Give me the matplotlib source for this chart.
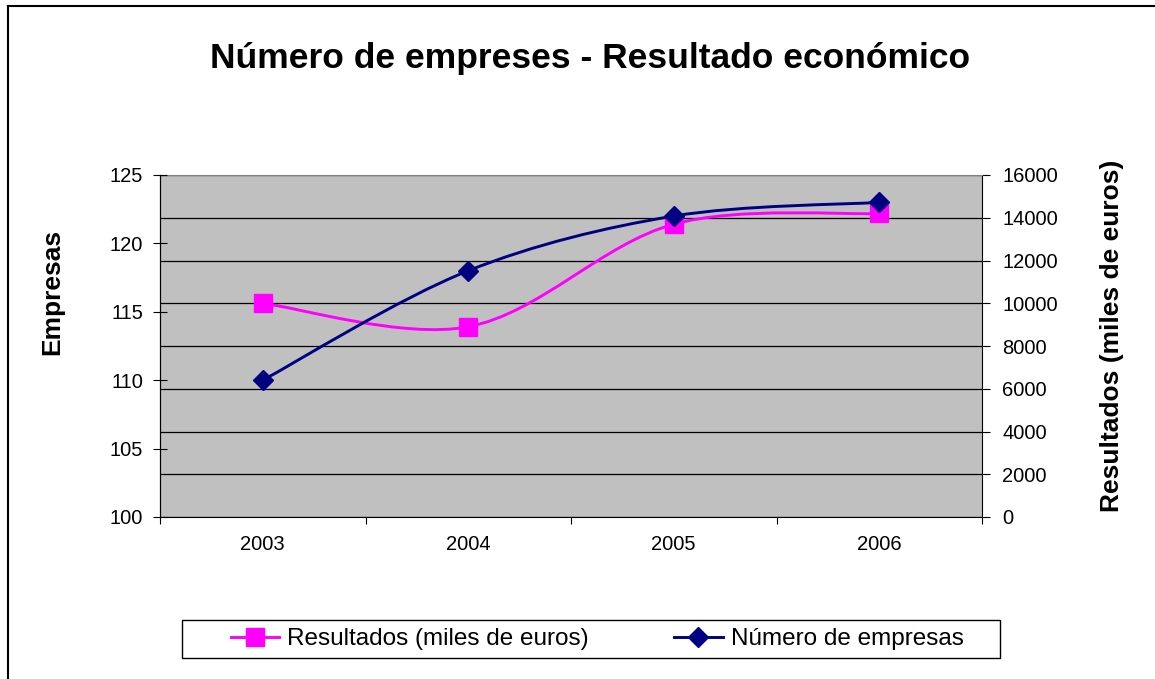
import numpy as np
import matplotlib
matplotlib.use('Agg')
import matplotlib.pyplot as plt
from matplotlib.path import Path
from matplotlib.patches import PathPatch, Rectangle
from matplotlib.lines import Line2D

years = ['2003', '2004', '2005', '2006']
empresas = [110, 118, 122, 123]
resultados = [10000, 8900, 13700, 14200]

plt.rcParams['font.family'] = ['Liberation Sans', 'DejaVu Sans']

W, H = 1155, 679
fig = plt.figure(figsize=(W / 100, H / 100), dpi=100)
fig.patch.set_facecolor('white')

# plot area (pixels measured on the reference)
px_left, px_right, px_top, px_bottom = 160, 982, 175, 517
ax = fig.add_axes([px_left / W, 1 - px_bottom / H,
                   (px_right - px_left) / W, (px_bottom - px_top) / H])
ax2 = ax.twinx()
# resultados on the right axis (ax), empresas on the left axis (ax2, drawn on top)
ax.yaxis.tick_right()
ax.yaxis.set_label_position('right')
ax2.yaxis.tick_left()
ax2.yaxis.set_label_position('left')

ax.set_facecolor('#C0C0C0')
x = np.arange(len(years))
ax.set_xlim(-0.5, len(years) - 0.5)
ax.set_ylim(0, 16000)
ax.set_yticks(range(0, 16001, 2000))
ax2.set_ylim(100, 125)
ax2.set_yticks(range(100, 126, 5))
ax.grid(axis='y', color='black', lw=0.9)
ax.set_axisbelow(True)

ax.set_xticks(x, years)
ax.set_xticks(np.arange(-0.5, len(years), 1), minor=True)
ax.tick_params(axis='x', which='major', length=0, pad=13, labelsize=14.5)
ax.tick_params(axis='x', which='minor', length=5, direction='out', width=0.8)
ax.tick_params(axis='y', length=6, direction='out', width=0.8, pad=8.5, labelsize=14.5)
ax2.tick_params(axis='y', length=10, direction='inout', width=0.8, pad=7, labelsize=14.5)

for s in ['left', 'right', 'bottom']:
    ax.spines[s].set_color('black')
    ax.spines[s].set_linewidth(0.8)
ax.spines['top'].set_color('#808080')
for s in ['top', 'right', 'bottom']:
    ax2.spines[s].set_visible(False)
ax2.spines['left'].set_color('black')
ax2.spines['left'].set_linewidth(0.8)


def smooth_path(ax_, xs, ys):
    # Excel-like smoothed line: bezier segments computed in screen proportions
    x0, x1 = ax_.get_xlim()
    y0, y1 = ax_.get_ylim()
    sx = (px_right - px_left) / (x1 - x0)
    sy = (px_bottom - px_top) / (y1 - y0)
    pts = np.column_stack([(np.asarray(xs) - x0) * sx, (np.asarray(ys) - y0) * sy])
    n = len(pts)
    verts = [pts[0]]
    codes = [Path.MOVETO]
    f = 1 / 6
    for i in range(n - 1):
        p0 = pts[i - 1] if i > 0 else pts[i]
        p1 = pts[i]
        p2 = pts[i + 1]
        p3 = pts[i + 2] if i + 2 < n else pts[i + 1]
        d01 = np.hypot(*(p1 - p0))
        d12 = np.hypot(*(p2 - p1))
        d23 = np.hypot(*(p3 - p2))
        f1 = f * 2 * d12 / (d01 + d12) if d01 > 0 else f
        f2 = f * 2 * d12 / (d12 + d23) if d23 > 0 else f
        c1 = p1 + (p2 - p0) * f1
        c2 = p2 - (p3 - p1) * f2
        verts += [c1, c2, p2]
        codes += [Path.CURVE4] * 3
    verts = np.array(verts)
    verts[:, 0] = verts[:, 0] / sx + x0
    verts[:, 1] = verts[:, 1] / sy + y0
    return Path(verts, codes)


pink = '#FF00FF'
navy = '#000080'

ax.add_patch(PathPatch(smooth_path(ax, x, resultados), fill=False, ec=pink, lw=2.1, zorder=2))
ax.plot(x, resultados, ls='none', marker='s', ms=12.5, color=pink, zorder=3)
ax2.add_patch(PathPatch(smooth_path(ax2, x, empresas), fill=False, ec=navy, lw=2.1, zorder=2))
ax2.plot(x, empresas, ls='none', marker='D', ms=10.5, color=navy, zorder=3)

fig.text(590 / W, 1 - 68 / H, 'Número de empreses - Resultado económico',
         ha='center', va='baseline', fontsize=25.5, fontweight='bold')
fig.text(52 / W, 1 - 292 / H, 'Empresas', rotation=90, ha='center', va='center',
         fontsize=19, fontweight='bold')
fig.text(1112 / W, 1 - 336 / H, 'Resultados (miles de euros)', rotation=90,
         ha='center', va='center', fontsize=19, fontweight='bold')

handles = [Line2D([], [], color=pink, lw=2.1, marker='s', ms=12.5),
           Line2D([], [], color=navy, lw=2.1, marker='D', ms=10.5)]
fig.legend(handles, ['Resultados (miles de euros)', 'Número de empresas'],
           loc='center', bbox_to_anchor=(597 / W, 1 - 639 / H), ncol=2, frameon=False,
           fontsize=17.5, handlelength=2.0, handletextpad=0.33, columnspacing=3.5)
fig.add_artist(Rectangle((182 / W, 1 - 658 / H), 818 / W, 38 / H, transform=fig.transFigure,
                         fill=False, ec='black', lw=1))

# outer chart border (left and top visible in the reference)
fig.add_artist(Line2D([8 / W, 8 / W], [0, 1 - 6 / H], color='black', lw=1.5))
fig.add_artist(Line2D([8 / W, 1], [1 - 6 / H, 1 - 6 / H], color='black', lw=1.5))

fig.savefig('out.png', dpi=100)
